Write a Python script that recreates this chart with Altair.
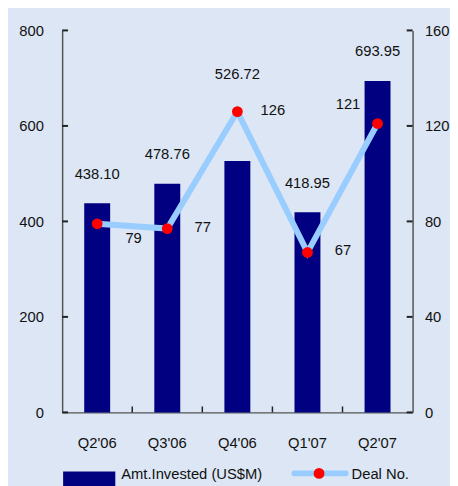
import altair as alt
import pandas as pd

quarters = ["Q2'06", "Q3'06", "Q4'06", "Q1'07", "Q2'07"]
amt_invested = [438.10, 478.76, 526.72, 418.95, 693.95]
deal_no = [79, 77, 126, 67, 121]
left_ticks = [0, 200, 400, 600, 800]
right_ticks = [0, 40, 80, 120, 160]
legend_labels = ["Amt.Invested (US$M)", "Deal No."]

W, H = 356, 388
FONT = "Liberation Sans, Arial, sans-serif"
FS = 15
NAVY = "#000080"
LIGHT = "#99CCFF"
RED = "#FF0000"
TXT = "#111111"

df = pd.DataFrame({"q": quarters, "amt": amt_invested, "deal": deal_no})
ticks_l = pd.DataFrame({"t": left_ticks})
ticks_r = pd.DataFrame({"t": right_ticks})
ticks_x = pd.DataFrame({"q": quarters[1:]})

xscale = alt.Scale(domain=quarters, paddingInner=0, paddingOuter=0)
xaxis = alt.Axis(title=None, labelAngle=0, ticks=False, labelPadding=24)
x = alt.X("q:N", sort=quarters, scale=xscale, axis=xaxis)
lscale = alt.Scale(domain=[0, 800], nice=False, zero=True)
rscale = alt.Scale(domain=[0, 160], nice=False, zero=True)
laxis = alt.Axis(title=None, orient="left", values=left_ticks, ticks=False,
                 grid=False, labelPadding=19)
raxis = alt.Axis(title=None, orient="right", values=right_ticks, ticks=False,
                 grid=False, labelPadding=12)

bars = alt.Chart(df).mark_bar(color=NAVY, width=alt.RelativeBandSize(0.37)).encode(
    x=x,
    y=alt.Y("amt:Q", scale=lscale, axis=laxis),
)
bar_labels = alt.Chart(df).transform_calculate(
    ly="max(datum.amt, datum.deal * 5 + 16)"
).mark_text(dy=-30, baseline="middle", align="center", font=FONT, fontSize=FS, color=TXT).encode(
    x=x,
    y=alt.Y("ly:Q", scale=lscale, axis=laxis),
    text=alt.Text("amt:Q", format=".2f"),
)
lticks = alt.Chart(ticks_l).mark_rule(color="#222222", strokeWidth=2).encode(
    y=alt.Y("t:Q", scale=lscale, axis=laxis), x=alt.value(0), x2=alt.value(6)
)
xticks = alt.Chart(ticks_x).mark_rule(color="#222222", strokeWidth=1.5).encode(
    x=alt.X("q:N", scale=xscale, axis=xaxis, bandPosition=0, sort=quarters),
    y=alt.value(H - 6), y2=alt.value(H),
)
left_group = alt.layer(bars, bar_labels, lticks, xticks)

yr = alt.Y("deal:Q", scale=rscale, axis=raxis)
line = alt.Chart(df).mark_line(color=LIGHT, strokeWidth=6).encode(x=x, y=yr)
points = alt.Chart(df).mark_circle(color=RED, size=120, opacity=1).encode(x=x, y=yr)


def deal_label(cats, dx, dy):
    return alt.Chart(df).transform_filter(
        alt.FieldOneOfPredicate(field="q", oneOf=cats)
    ).mark_text(dx=dx, dy=dy, baseline="middle", align="center", font=FONT,
                fontSize=FS, color=TXT).encode(
        x=x, y=yr, text="deal:Q"
    )


dl1 = deal_label(["Q2'06"], 37, 15)
dl2 = deal_label(["Q3'06", "Q4'06", "Q1'07"], 36, -2)
dl3 = deal_label(["Q2'07"], -30, -20)
rticks = alt.Chart(ticks_r).mark_rule(color="#222222", strokeWidth=2).encode(
    y=alt.Y("t:Q", scale=rscale, axis=raxis), x=alt.value(W - 6), x2=alt.value(W)
)
right_group = alt.layer(line, points, dl1, dl2, dl3, rticks)

# legend (drawn below the plot)
leg1 = pd.DataFrame({"label": [legend_labels[0]]})
leg2 = pd.DataFrame({"label": [legend_labels[1]]})
leg_rect = alt.Chart(leg1).mark_rect(color=NAVY).encode(
    x=alt.value(1), x2=alt.value(54), y=alt.value(448), y2=alt.value(464)
)
leg_text1 = alt.Chart(leg1).mark_text(align="left", baseline="middle", font=FONT,
                                      fontSize=FS, color=TXT).encode(
    x=alt.value(60), y=alt.value(451), text="label:N"
)
leg_line = alt.Chart(leg2).mark_rule(color=LIGHT, strokeWidth=6, strokeCap="round").encode(
    x=alt.value(236), x2=alt.value(288), y=alt.value(450)
)
leg_dot = alt.Chart(leg2).mark_circle(color=RED, size=120, opacity=1).encode(
    x=alt.value(261), y=alt.value(450)
)
leg_text2 = alt.Chart(leg2).mark_text(align="left", baseline="middle", font=FONT,
                                      fontSize=FS, color=TXT).encode(
    x=alt.value(294), y=alt.value(451), text="label:N"
)

chart = alt.layer(
    left_group, right_group, leg_rect, leg_text1, leg_line, leg_dot, leg_text2
).resolve_scale(y="independent").properties(
    width=W, height=H,
    autosize=alt.AutoSizeParams(type="none"),
    padding={"left": 55, "top": 19, "right": 38, "bottom": 71},
    background="#DCE6F4",
).configure_view(stroke=None).configure_axis(
    labelFont=FONT, labelFontSize=FS, labelColor=TXT,
    domainColor="#555555", domainWidth=1.5,
)

chart.save("out.html", embed_options={"renderer": "svg", "actions": False})
